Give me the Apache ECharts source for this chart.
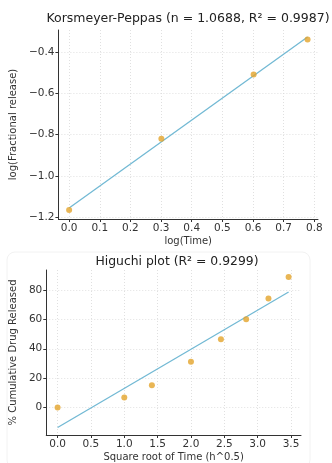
<!DOCTYPE html>
<html><head><meta charset="utf-8">
<script src="https://cdn.jsdelivr.net/npm/echarts@6/dist/echarts.min.js"></script>
<style>html,body{margin:0;padding:0;background:#fff}#c{width:332px;height:463px}</style>
</head><body><div id="c"></div>
<script>
// Korsmeyer-Peppas data
const kpLogTime = [0, 0.301, 0.602, 0.778];
const kpLogRelease = [-1.165, -0.819, -0.508, -0.339];
const kpFitX = [0, 0.778];
const kpFitY = [-1.155, -0.327];
const kpXTicks = [0, 0.1, 0.2, 0.3, 0.4, 0.5, 0.6, 0.7, 0.8];
const kpYTicks = [-1.2, -1.0, -0.8, -0.6, -0.4];
// Higuchi data
const hSqrtTime = [0, 1, 1.414, 2, 2.449, 2.828, 3.162, 3.464];
const hRelease = [0, 6.8, 15.2, 31.2, 46.4, 60.1, 74.3, 88.9];
const hFitX = [0, 3.464];
const hFitY = [-13.7, 78.7];
const hXTicks = [0, 0.5, 1, 1.5, 2, 2.5, 3, 3.5];
const hYTicks = [0, 20, 40, 60, 80];

const FONT = 'DejaVu Sans';
const ptColor = '#e3a42a';
const lnColor = '#72b9d4';
const fmt1 = v => (v < 0 ? '\u2212' : '') + Math.abs(v).toFixed(1);
const fmt0 = v => String(Math.round(v));

function mkAxis(gi, min, max, ticks, fmt, name, gap) {
  return {
    type: 'value', gridIndex: gi, min: min, max: max,
    name: name, nameLocation: 'middle', nameGap: gap,
    nameTextStyle: {fontFamily: FONT, fontSize: 10, color: '#333'},
    axisLine: {show: true, onZero: false, lineStyle: {color: '#333', width: 1}},
    axisTick: {show: true, length: 3, lineStyle: {color: '#333'}, customValues: ticks},
    axisLabel: {fontFamily: FONT, fontSize: 10.5, color: '#333', margin: 4, customValues: ticks, formatter: fmt},
    splitLine: {show: true, lineStyle: {color: '#d8d8d8', type: [1, 2], width: 0.8}}
  };
}

const chart = echarts.init(document.getElementById('c'), null, {renderer: 'canvas'});
chart.setOption({
  animation: false,
  backgroundColor: '#fff',
  graphic: [{
    type: 'rect', shape: {x: 7, y: 252, width: 303, height: 216, r: 8},
    style: {fill: 'none', stroke: '#f2f2f2', lineWidth: 1}, z: -1
  }],
  title: [
    {text: 'Korsmeyer-Peppas (n = 1.0688, R\u00b2 = 0.9987)', left: 183, top: 7, textAlign: 'center',
     textStyle: {fontFamily: FONT, fontSize: 12.5, fontWeight: 'normal', color: '#222'}},
    {text: 'Higuchi plot (R\u00b2 = 0.9299)', left: 172, top: 251, textAlign: 'center',
     textStyle: {fontFamily: FONT, fontSize: 12.4, fontWeight: 'normal', color: '#222'}}
  ],
  grid: [
    {left: 52, top: 30, width: 266, height: 189},
    {left: 43, top: 270, width: 258, height: 170}
  ],
  xAxis: [
    mkAxis(0, -0.035, 0.812, kpXTicks, fmt1, 'log(Time)', 17),
    mkAxis(1, -0.17, 3.65, hXTicks, fmt1, 'Square root of Time (h^0.5)', 17)
  ],
  yAxis: [
    mkAxis(0, -1.208, -0.293, kpYTicks, fmt1, 'log(Fractional release)', 32),
    mkAxis(1, -18.8, 93.7, hYTicks, fmt0, '% Cumulative Drug Released', 22)
  ],
  series: [
    {type: 'line', xAxisIndex: 0, yAxisIndex: 0, data: kpFitX.map((x, i) => [x, kpFitY[i]]),
     showSymbol: false, lineStyle: {color: lnColor, width: 1.3}, z: 2},
    {type: 'scatter', xAxisIndex: 0, yAxisIndex: 0, data: kpLogTime.map((x, i) => [x, kpLogRelease[i]]),
     symbolSize: 6, itemStyle: {color: ptColor}, z: 3},
    {type: 'line', xAxisIndex: 1, yAxisIndex: 1, data: hFitX.map((x, i) => [x, hFitY[i]]),
     showSymbol: false, lineStyle: {color: lnColor, width: 1.3}, z: 2},
    {type: 'scatter', xAxisIndex: 1, yAxisIndex: 1, data: hSqrtTime.map((x, i) => [x, hRelease[i]]),
     symbolSize: 6, itemStyle: {color: ptColor}, z: 3}
  ]
});
</script></body></html>
